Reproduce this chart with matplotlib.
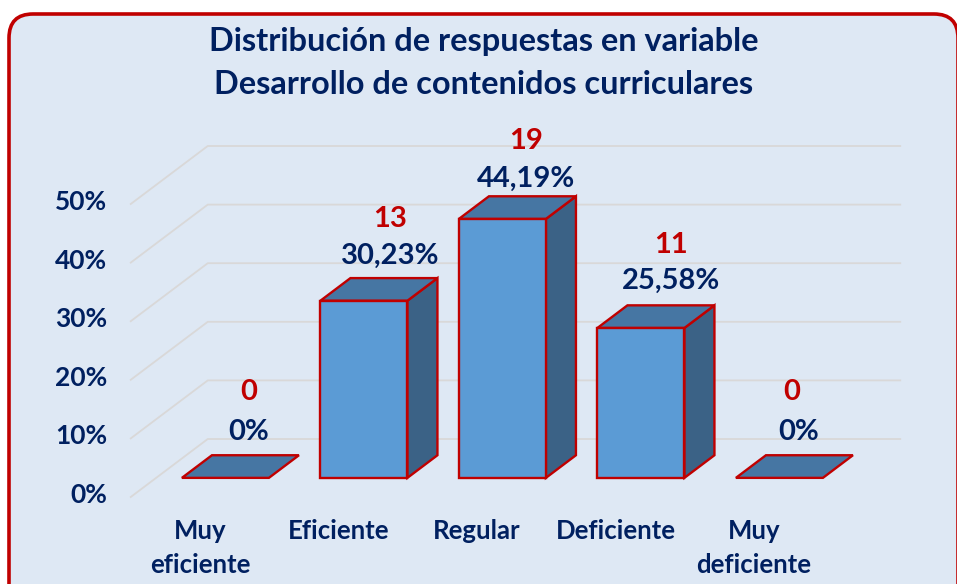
"""3D-style column chart of survey responses, drawn on a flat matplotlib axis."""

import matplotlib

matplotlib.use("Agg")
import matplotlib.pyplot as plt
from matplotlib.patches import FancyBboxPatch
from matplotlib.transforms import ScaledTranslation

CATEGORIES = ["Muy\neficiente", "Eficiente", "Regular", "Deficiente", "Muy\ndeficiente"]
PERCENTS = [0, 30.23, 44.19, 25.58, 0]
COUNTS = [0, 13, 19, 11, 0]
Y_TICKS = [0, 10, 20, 30, 40, 50]
TITLE_LINES = ["Distribución de respuestas en variable", "Desarrollo de contenidos curriculares"]

NAVY = "#002060"
RED = "#C00000"
PANEL = "#DEE8F4"
FRONT = "#5B9BD5"
TOP = "#4676A3"
SIDE = "#3B6286"
GRID = "#D9D8D8"

W, H = 957, 584
# depth of the fake 3D box, in data units (x categories, y percent)
DEPTH_X = 77 / 138.5
DEPTH_Y = 58 / 5.86
BAR_WIDTH = 87 / 138.5
BAR_NEAR = 0.33
BAR_FAR = 0.72


def project(x, y, depth):
    return x + depth * DEPTH_X, y + depth * DEPTH_Y


def face(ax, points, colour, zorder):
    xs, ys = zip(*[project(*p) for p in points])
    ax.fill(xs, ys, facecolor=colour, edgecolor=RED, linewidth=1.7, joinstyle="miter", clip_on=False, zorder=zorder)


plt.rcParams["font.family"] = ["Lato", "DejaVu Sans"]
plt.rcParams["font.weight"] = "bold"

fig = plt.figure(figsize=(W / 100, H / 100), dpi=100, facecolor="white")

back = fig.add_axes([0, 0, 1, 1])
back.set_xlim(0, W)
back.set_ylim(H, 0)
back.axis("off")
back.add_patch(FancyBboxPatch((9, 14), 949, 620, boxstyle="round,pad=0,rounding_size=24", facecolor=PANEL, edgecolor=RED, linewidth=2.6))
back.text(484, 41, TITLE_LINES[0], color=NAVY, fontsize=23.4, ha="center", va="center")
back.text(484, 84, TITLE_LINES[1], color=NAVY, fontsize=23.4, ha="center", va="center")

ax = fig.add_axes([130.75 / W, (H - 497) / H, 692.5 / W, 293 / H])
ax.patch.set_alpha(0)
ax.set_xlim(-0.5, 4.5)
ax.set_ylim(0, 50)
for spine in ax.spines.values():
    spine.set_visible(False)

ax.set_yticks(Y_TICKS, [f"{v}%" for v in Y_TICKS])
ax.set_xticks(range(len(CATEGORIES)), CATEGORIES)
ax.tick_params(axis="both", length=0, colors=NAVY, labelsize=18.5)
ax.tick_params(axis="y", pad=17, labelsize=19)
ax.tick_params(axis="x", pad=15.5)
for label in ax.get_xticklabels():
    label.set_linespacing(1.5)
for label in ax.get_yticklabels():
    label.set_transform(label.get_transform() + ScaledTranslation(0, 4 / 100, fig.dpi_scale_trans))

for value in Y_TICKS:
    xs, ys = zip(project(-0.5, value, 0), project(-0.5, value, 1), project(4.5, value, 1))
    ax.plot(xs, ys, color=GRID, linewidth=1.3, clip_on=False, zorder=1)

# label nudges in points, (percent x, percent y, count x, count y), to sit where the original has them
NUDGES = [(17, 33, 17, 62), (19, 32, 19, 59), (17, 29, 17, 56), (22, 34, 22, 60), (14, 33, 9, 62)]

for i, (percent, count) in enumerate(zip(PERCENTS, COUNTS)):
    left, right = i - BAR_WIDTH / 2, i + BAR_WIDTH / 2
    if percent > 0:
        face(ax, [(right, 0, BAR_NEAR), (right, 0, BAR_FAR), (right, percent, BAR_FAR), (right, percent, BAR_NEAR)], SIDE, 3)
    face(ax, [(left, percent, BAR_NEAR), (right, percent, BAR_NEAR), (right, percent, BAR_FAR), (left, percent, BAR_FAR)], TOP, 3)
    if percent > 0:
        face(ax, [(left, 0, BAR_NEAR), (right, 0, BAR_NEAR), (right, percent, BAR_NEAR), (left, percent, BAR_NEAR)], FRONT, 4)

    anchor = project(i, percent, BAR_NEAR)
    text = f"{percent:.2f}%".replace(".", ",") if percent else "0%"
    px, py, cx, cy = NUDGES[i]
    ax.annotate(text, anchor, xytext=(px, py), textcoords="offset points", color=NAVY, fontsize=21, ha="center", va="center", zorder=5, annotation_clip=False)
    ax.annotate(str(count), anchor, xytext=(cx, cy), textcoords="offset points", color=RED, fontsize=21, ha="center", va="center", zorder=5, annotation_clip=False)

fig.savefig("out.png", dpi=100)
